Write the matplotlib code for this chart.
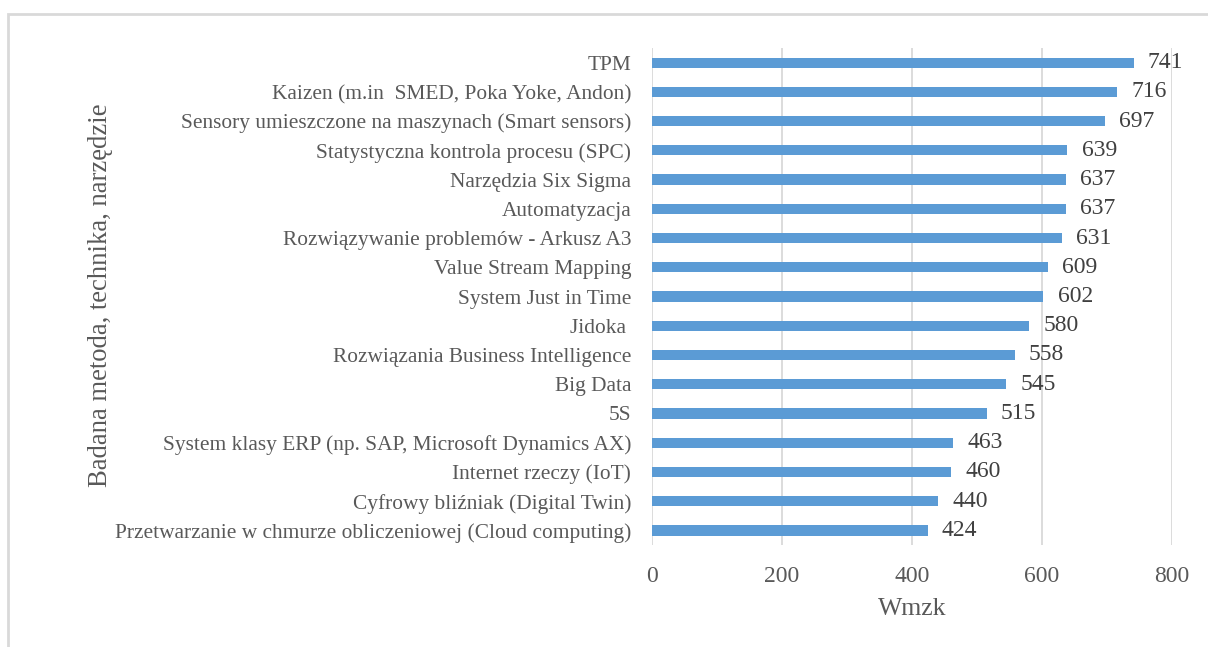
import matplotlib.pyplot as plt
import matplotlib.patches as patches
import numpy as np

categories = [
    "TPM",
    "Kaizen (m.in  SMED, Poka Yoke, Andon)",
    "Sensory umieszczone na maszynach (Smart sensors)",
    "Statystyczna kontrola procesu (SPC)",
    "Narzędzia Six Sigma",
    "Automatyzacja",
    "Rozwiązywanie problemów - Arkusz A3",
    "Value Stream Mapping",
    "System Just in Time",
    "Jidoka ",
    "Rozwiązania Business Intelligence",
    "Big Data",
    "5S",
    "System klasy ERP (np. SAP, Microsoft Dynamics AX)",
    "Internet rzeczy (IoT)",
    "Cyfrowy bliźniak (Digital Twin)",
    "Przetwarzanie w chmurze obliczeniowej (Cloud computing)",
]
values = [741, 716, 697, 639, 637, 637, 631, 609, 602, 580, 558, 545, 515, 463, 460, 440, 424]
x_ticks = [0, 200, 400, 600, 800]

TEXT = "#595959"
BAR = "#5B9BD5"

plt.rcParams['font.family'] = ['Liberation Serif', 'DejaVu Serif']

fig = plt.figure(figsize=(12.08, 6.47), dpi=100)
ax = fig.add_axes([0.5397, 0.1576, 0.4305, 0.7682])

y = np.arange(len(categories))
ax.barh(y, values, height=0.35, color=BAR, zorder=3)
ax.set_ylim(len(categories) - 0.5, -0.5)
ax.set_xlim(0, 800)
ax.set_xticks(x_ticks)
ax.set_yticks(y)
ax.set_yticklabels(categories, fontsize=15.4, color=TEXT)
ax.tick_params(axis='x', labelsize=17, colors=TEXT, length=0, pad=15)
ax.tick_params(axis='y', length=0, pad=15)
ax.grid(axis='x', color='#D9D9D9', linewidth=1.3, zorder=0)
for s in ax.spines.values():
    s.set_visible(False)

for yi, v in zip(y, values):
    ax.text(v + 22, yi, str(v), va='center', ha='left', fontsize=17, color='#404040')

ax.set_xlabel("Wmzk", fontsize=18.5, color=TEXT, labelpad=8)
fig.text(0.083, 0.544, "Badana metoda, technika, narzędzie", rotation=90,
         va='center', ha='center', fontsize=19.2, color=TEXT)

fig.patches.append(patches.Rectangle((8 / 1208, -0.1), 1.2, 1 - 14 / 647 + 0.1,
                                     transform=fig.transFigure, fill=False,
                                     edgecolor='#D9D9D9', linewidth=2))

fig.savefig("out.png", dpi=100)
